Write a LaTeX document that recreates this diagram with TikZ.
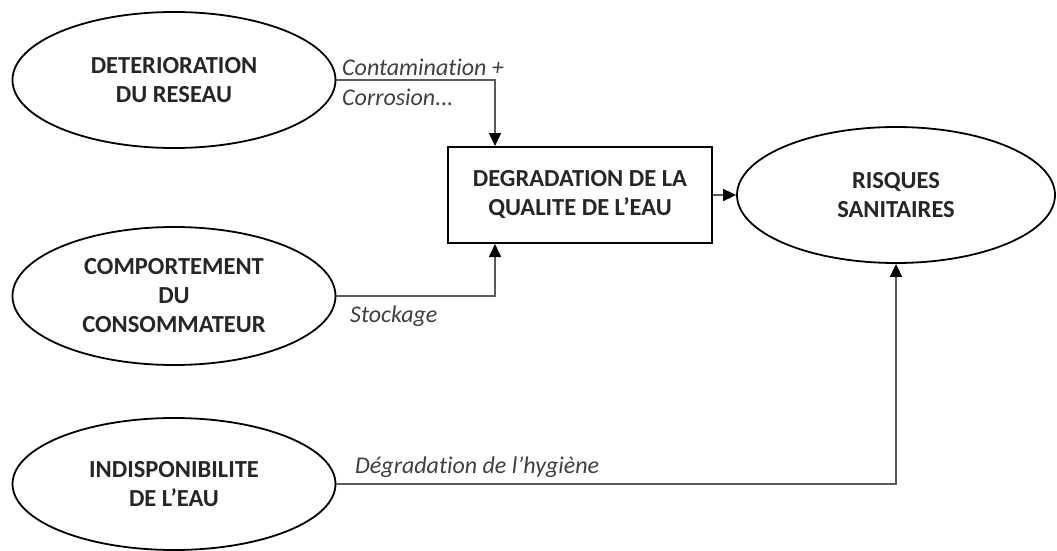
\documentclass[tikz,border=0pt]{standalone}
\usepackage{fontspec}
\setmainfont{Carlito}[Ligatures=NoCommon]
\usetikzlibrary{shapes.geometric,arrows.meta}
\definecolor{linegray}{HTML}{5A5A5A}
\definecolor{labelgray}{HTML}{404040}

\begin{document}
\begin{tikzpicture}[x=1pt, y=-1pt,
    cause/.style={ellipse, draw, line width=1.8pt, align=center, inner sep=0pt,
        font=\bfseries\fontsize{24.5}{29}\selectfont, text=black!85},
    effect/.style={rectangle, draw, line width=2pt, align=center, inner sep=0pt,
        font=\bfseries\fontsize{24.5}{29}\selectfont, text=black!85},
    link/.style={draw=linegray, line width=1.6pt, -{Triangle[length=13pt,width=12pt,color=black]}},
    note/.style={font=\itshape\fontsize{24}{30}\selectfont, text=labelgray, inner sep=0pt}]

    \useasboundingbox (0,0) rectangle (1057,551);

    % Nodes at pixel coordinates
    \node[cause, minimum width=323pt, minimum height=136pt] (reseau) at (174, 80) {DETERIORATION\\DU RESEAU};
    \node[cause, minimum width=323pt, minimum height=138pt] (conso) at (174, 296) {COMPORTEMENT\\DU\\CONSOMMATEUR};
    \node[cause, minimum width=323pt, minimum height=132pt] (indispo) at (174, 484) {INDISPONIBILITE\\DE L’EAU};
    \node[effect, minimum width=264pt, minimum height=96pt] (qualite) at (580, 195) {DEGRADATION DE LA\\QUALITE DE L’EAU};
    \node[cause, minimum width=318pt, minimum height=136pt] (risques) at (896, 195) {RISQUES\\SANITAIRES};

    % Labels
    \node[note, anchor=west, align=left] (contam) at (342, 82) {Contamination +\\Corrosion...};
    \node[note, anchor=west] (stock) at (350, 316) {Stockage};
    \node[note, anchor=west] (hygiene) at (355, 467) {Dégradation de l’hygiène};

    % Edges
    \draw[link] (reseau.east) -| ([xshift=48pt]qualite.north west);
    \draw[link] (conso.east) -| ([xshift=48pt]qualite.south west);
    \draw[link] (qualite.east) -- (risques.west);
    \draw[link] (indispo.east) -| (risques.south);

\end{tikzpicture}
\end{document}
